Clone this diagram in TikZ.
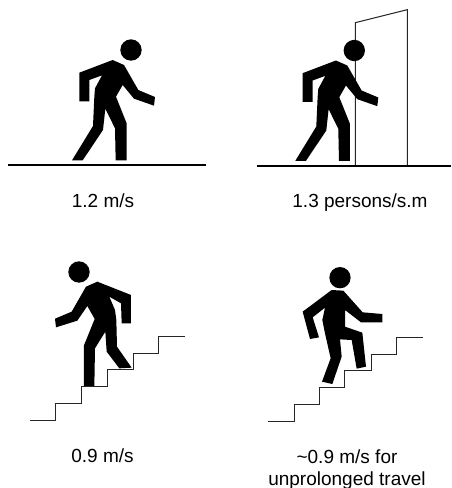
\documentclass[tikz,border=0pt]{standalone}
\usepackage{fontspec}
\setmainfont{Liberation Sans}
\newcommand{\walkerpath}{(338,180) -- (372,195) -- (415,270) -- (465,291) -- (462,317) -- (402,296) -- (368,255) -- (348,290) -- (380,370) -- (380,481) -- (347,481) -- (345,385) -- (316,326) -- (309,390) -- (248,481) -- (216,481) -- (279,378) -- (283,290) -- (285,265) -- (306,226) -- (268,240) -- (268,304) -- (238,304) -- (238,218) -- cycle}
\begin{document}
\begin{tikzpicture}[
  x=1pt, y=-1pt,
  figure/.style={fill=black, draw=none},
  ground/.style={draw=black, line width=1.7pt},
  thinline/.style={draw=black!85, line width=1pt},
  caption/.style={font=\fontsize{19}{22}\selectfont, anchor=base, align=center, inner sep=0},
  zoomed/.style={x=0.33333pt, y=-0.33333pt}
]
\useasboundingbox (0,0) rectangle (451,488);
% door goes behind the walker
\begin{scope}[xshift=225pt, zoomed]
  \draw[thinline] (391,495) -- (391,68) -- (547,29) -- (547,495);
\end{scope}
% level walkers
\begin{scope}[zoomed]
  \fill[figure] (393,150) circle (32);
  \fill[figure] \walkerpath;
\end{scope}
\begin{scope}[xshift=223.3pt, yshift=-0.5pt, zoomed]
  \fill[figure] (393,150) circle (32);
  \fill[figure] \walkerpath;
\end{scope}
\draw[ground] (8,165) -- (206,165);
\draw[ground] (257,165.7) -- (451,165.7);
% walker going down
\begin{scope}[yshift=-240pt, zoomed]
  \fill[figure] (237,96) circle (32);
  \fill[figure] (292,125) -- (393,165) -- (393,250) -- (365,250) -- (363,190) -- (328,170) -- (345,210) -- (349,240) -- (351,320) -- (395,383) -- (358,385) -- (320,335) -- (316,275) -- (285,325) -- (283,438) -- (252,438) -- (252,316) -- (284,237) -- (262,198) -- (232,242) -- (168,262) -- (165,236) -- (215,215) -- (258,140) -- cycle;
  \draw[thinline] (91,541) -| (168,491) -| (246,439) -| (322,388) -| (401,339) -| (477,288) -- (556,288);
\end{scope}
% walker going up
\begin{scope}[xshift=225pt, yshift=-240pt, zoomed]
  \fill[figure] (345,113) circle (32);
  \fill[figure] (320,150) -- (355,152) -- (413,217) -- (472,222) -- (472,247) -- (408,247) -- (360,210) -- (360,260) -- (412,278) -- (423,380) -- (395,386) -- (380,300) -- (345,298) -- (350,350) -- (322,432) -- (291,425) -- (317,355) -- (300,280) -- (292,240) -- (300,203) -- (263,232) -- (282,292) -- (255,297) -- (233,215) -- cycle;
  \draw[thinline] (130,545) -| (207,494) -| (283,443) -| (359,392) -| (438,342) -| (515,292) -- (593,292);
\end{scope}
% captions
\node[caption] (level) at (103,207) {1.2 m/s};
\node[caption] (door) at (360,207) {1.3 persons/s.m};
\node[caption] (down) at (102.5,462.7) {0.9 m/s};
\node[caption] (up) at (347,485) {\textasciitilde0.9 m/s for\\unprolonged travel};
\end{tikzpicture}
\end{document}
